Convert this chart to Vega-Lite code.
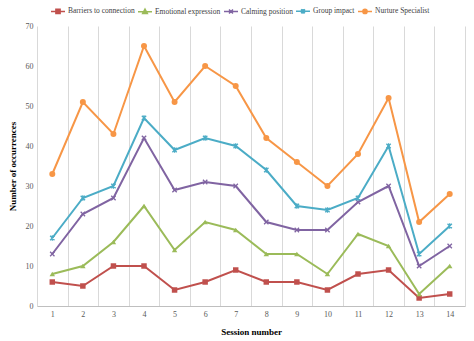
{
  "$schema": "https://vega.github.io/schema/vega-lite/v6.json",
  "width": 428,
  "height": 280,
  "autosize": "none",
  "padding": {"left": 37, "top": 26, "right": 9, "bottom": 35},
  "background": "white",
  "config": {
    "font": "Liberation Serif",
    "view": {"stroke": null}
  },
  "data": {
    "values": [
      {"s": 1, "series": "Barriers to connection", "v": 6},
      {"s": 2, "series": "Barriers to connection", "v": 5},
      {"s": 3, "series": "Barriers to connection", "v": 10},
      {"s": 4, "series": "Barriers to connection", "v": 10},
      {"s": 5, "series": "Barriers to connection", "v": 4},
      {"s": 6, "series": "Barriers to connection", "v": 6},
      {"s": 7, "series": "Barriers to connection", "v": 9},
      {"s": 8, "series": "Barriers to connection", "v": 6},
      {"s": 9, "series": "Barriers to connection", "v": 6},
      {"s": 10, "series": "Barriers to connection", "v": 4},
      {"s": 11, "series": "Barriers to connection", "v": 8},
      {"s": 12, "series": "Barriers to connection", "v": 9},
      {"s": 13, "series": "Barriers to connection", "v": 2},
      {"s": 14, "series": "Barriers to connection", "v": 3},
      {"s": 1, "series": "Emotional expression", "v": 8},
      {"s": 2, "series": "Emotional expression", "v": 10},
      {"s": 3, "series": "Emotional expression", "v": 16},
      {"s": 4, "series": "Emotional expression", "v": 25},
      {"s": 5, "series": "Emotional expression", "v": 14},
      {"s": 6, "series": "Emotional expression", "v": 21},
      {"s": 7, "series": "Emotional expression", "v": 19},
      {"s": 8, "series": "Emotional expression", "v": 13},
      {"s": 9, "series": "Emotional expression", "v": 13},
      {"s": 10, "series": "Emotional expression", "v": 8},
      {"s": 11, "series": "Emotional expression", "v": 18},
      {"s": 12, "series": "Emotional expression", "v": 15},
      {"s": 13, "series": "Emotional expression", "v": 3},
      {"s": 14, "series": "Emotional expression", "v": 10},
      {"s": 1, "series": "Calming position", "v": 13},
      {"s": 2, "series": "Calming position", "v": 23},
      {"s": 3, "series": "Calming position", "v": 27},
      {"s": 4, "series": "Calming position", "v": 42},
      {"s": 5, "series": "Calming position", "v": 29},
      {"s": 6, "series": "Calming position", "v": 31},
      {"s": 7, "series": "Calming position", "v": 30},
      {"s": 8, "series": "Calming position", "v": 21},
      {"s": 9, "series": "Calming position", "v": 19},
      {"s": 10, "series": "Calming position", "v": 19},
      {"s": 11, "series": "Calming position", "v": 26},
      {"s": 12, "series": "Calming position", "v": 30},
      {"s": 13, "series": "Calming position", "v": 10},
      {"s": 14, "series": "Calming position", "v": 15},
      {"s": 1, "series": "Group impact", "v": 17},
      {"s": 2, "series": "Group impact", "v": 27},
      {"s": 3, "series": "Group impact", "v": 30},
      {"s": 4, "series": "Group impact", "v": 47},
      {"s": 5, "series": "Group impact", "v": 39},
      {"s": 6, "series": "Group impact", "v": 42},
      {"s": 7, "series": "Group impact", "v": 40},
      {"s": 8, "series": "Group impact", "v": 34},
      {"s": 9, "series": "Group impact", "v": 25},
      {"s": 10, "series": "Group impact", "v": 24},
      {"s": 11, "series": "Group impact", "v": 27},
      {"s": 12, "series": "Group impact", "v": 40},
      {"s": 13, "series": "Group impact", "v": 13},
      {"s": 14, "series": "Group impact", "v": 20},
      {"s": 1, "series": "Nurture Specialist", "v": 33},
      {"s": 2, "series": "Nurture Specialist", "v": 51},
      {"s": 3, "series": "Nurture Specialist", "v": 43},
      {"s": 4, "series": "Nurture Specialist", "v": 65},
      {"s": 5, "series": "Nurture Specialist", "v": 51},
      {"s": 6, "series": "Nurture Specialist", "v": 60},
      {"s": 7, "series": "Nurture Specialist", "v": 55},
      {"s": 8, "series": "Nurture Specialist", "v": 42},
      {"s": 9, "series": "Nurture Specialist", "v": 36},
      {"s": 10, "series": "Nurture Specialist", "v": 30},
      {"s": 11, "series": "Nurture Specialist", "v": 38},
      {"s": 12, "series": "Nurture Specialist", "v": 52},
      {"s": 13, "series": "Nurture Specialist", "v": 21},
      {"s": 14, "series": "Nurture Specialist", "v": 28}
    ]
  },
  "encoding": {
    "x": {
      "field": "s", "type": "ordinal",
      "scale": {"paddingInner": 0, "paddingOuter": 0},
      "axis": {
        "title": "Session number", "titleFontWeight": "bold", "titleFontSize": 9, "titleColor": "black",
        "titlePadding": 9,
        "labelAngle": 0, "labelFontSize": 8, "labelColor": "#595959", "labelPadding": 4,
        "ticks": false, "grid": true, "tickBand": "extent", "gridColor": "#d9d9d9", "gridWidth": 1,
        "domainColor": "#bfbfbf", "domainWidth": 1
      }
    },
    "y": {
      "field": "v", "type": "quantitative",
      "scale": {"domain": [0, 70], "nice": false},
      "axis": {
        "title": "Number of occurrences", "titleFontWeight": "bold", "titleFontSize": 9, "titleColor": "black",
        "titlePadding": 8,
        "values": [0, 10, 20, 30, 40, 50, 60, 70],
        "labelFontSize": 8, "labelColor": "#595959", "labelPadding": 4,
        "ticks": false, "grid": false, "domain": false
      }
    },
    "color": {
      "field": "series", "type": "nominal",
      "sort": ["Barriers to connection", "Emotional expression", "Calming position", "Group impact", "Nurture Specialist"],
      "scale": {
        "domain": ["Barriers to connection", "Emotional expression", "Calming position", "Group impact", "Nurture Specialist"],
        "range": ["#C0504D", "#9BBB59", "#8064A2", "#4BACC6", "#F79646"]
      },
      "legend": null
    }
  },
  "layer": [
    {
      "mark": {"type": "line", "strokeWidth": 2},
      "encoding": {
        "color": {
          "field": "series", "type": "nominal",
          "sort": ["Barriers to connection", "Emotional expression", "Calming position", "Group impact", "Nurture Specialist"],
          "legend": {
            "orient": "none", "legendX": 13, "legendY": -23, "direction": "horizontal",
            "title": null, "labelFontSize": 7.5, "labelColor": "#404040", "labelFont": "Liberation Serif",
            "symbolSize": 196, "columnPadding": 0, "labelOffset": 2, "padding": 0,
            "encode": {
              "symbols": {
                "update": {
                  "shape": {"signal": "datum.value === 'Barriers to connection' ? 'M-1,0L1,0M-0.3,-0.3h0.6v0.6h-0.6z' : datum.value === 'Emotional expression' ? 'M-1,0L1,0M0,-0.35L0.33,0.25L-0.33,0.25z' : datum.value === 'Calming position' ? 'M-1,0L1,0M-0.28,-0.28L0.28,0.28M-0.28,0.28L0.28,-0.28' : datum.value === 'Group impact' ? 'M-1,0L1,0M-0.28,-0.28L0.28,0.28M-0.28,0.28L0.28,-0.28M0,-0.33L0,0.33' : 'M-1,0L1,0M0.3,0A0.3,0.3,0,1,1,-0.3,0A0.3,0.3,0,1,1,0.3,0z'"},
                  "fill": {"signal": "scale('color', datum.value)"},
                  "stroke": {"signal": "scale('color', datum.value)"},
                  "strokeWidth": {"value": 1.5}
                }
              }
            }
          }
        }
      }
    },
    {
      "transform": [{"filter": "datum.series === 'Barriers to connection'"}],
      "mark": {"type": "point", "filled": true, "size": 30, "opacity": 1, "shape": "square"}
    },
    {
      "transform": [{"filter": "datum.series === 'Emotional expression'"}],
      "mark": {"type": "point", "filled": true, "size": 30, "opacity": 1, "shape": "triangle-up"}
    },
    {
      "transform": [{"filter": "datum.series === 'Calming position'"}],
      "mark": {"type": "point", "filled": false, "size": 30, "opacity": 1, "strokeWidth": 1.3, "shape": "M-0.8,-0.8L0.8,0.8M-0.8,0.8L0.8,-0.8"}
    },
    {
      "transform": [{"filter": "datum.series === 'Group impact'"}],
      "mark": {"type": "point", "filled": false, "size": 30, "opacity": 1, "strokeWidth": 1.3, "shape": "M-0.8,-0.8L0.8,0.8M-0.8,0.8L0.8,-0.8M0,-1L0,1"}
    },
    {
      "transform": [{"filter": "datum.series === 'Nurture Specialist'"}],
      "mark": {"type": "point", "filled": true, "size": 36, "opacity": 1, "shape": "circle"}
    }
  ]
}
